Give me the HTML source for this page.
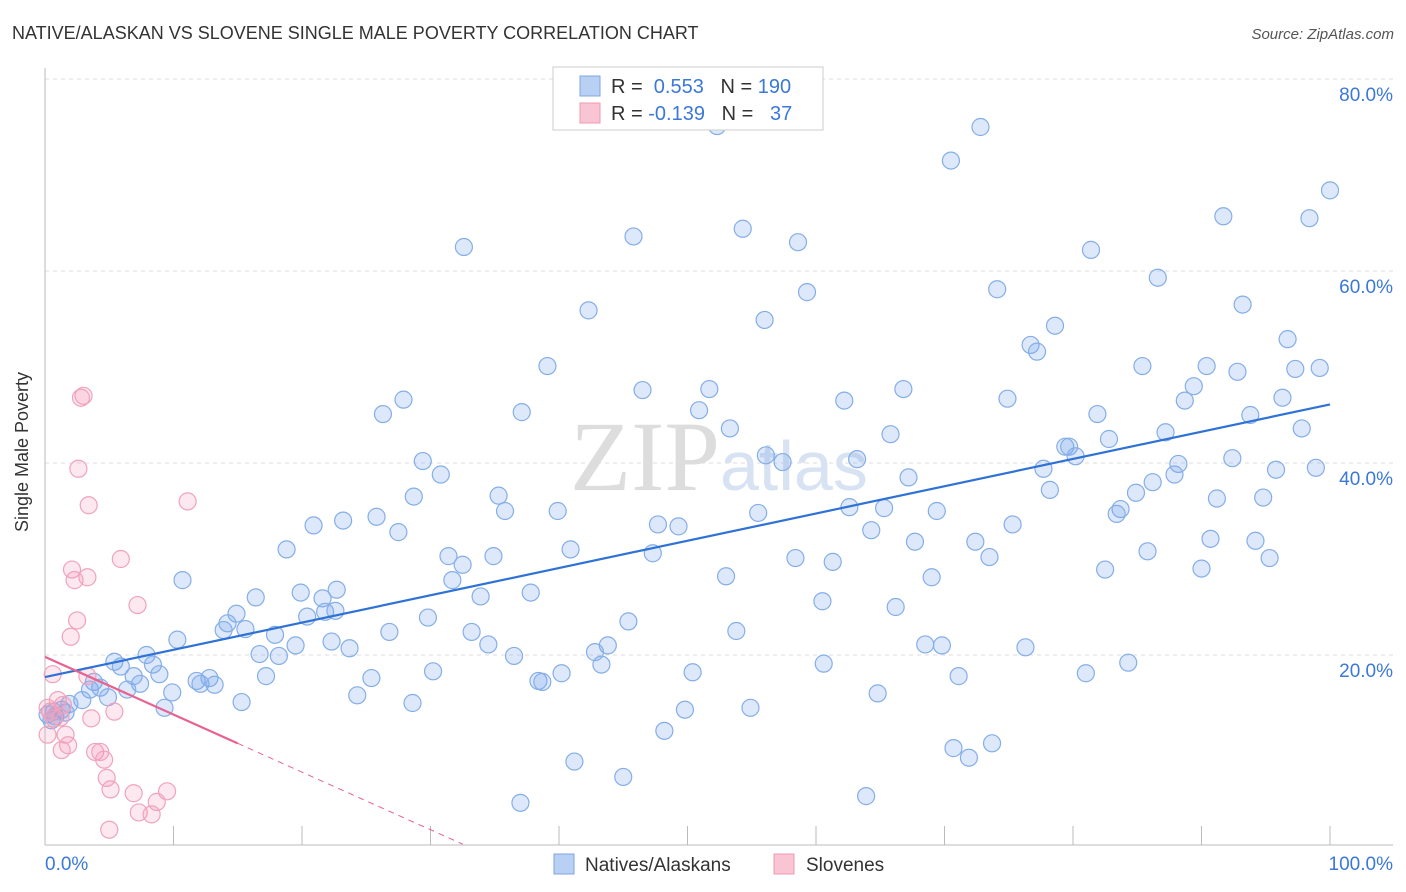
<!DOCTYPE html>
<html><head><meta charset="utf-8"><style>
body{margin:0;background:#fff;font-family:"Liberation Sans",sans-serif;}
svg{display:block}
</style></head><body>
<svg width="1406" height="892">
<text x="12" y="39" font-size="18" fill="#333">NATIVE/ALASKAN VS SLOVENE SINGLE MALE POVERTY CORRELATION CHART</text>
<text x="1394" y="39" font-size="15" fill="#555" font-style="italic" text-anchor="end">Source: ZipAtlas.com</text>
<g id="grid"></g>
<text x="720" y="490" font-size="100" fill="#ddd" text-anchor="end" font-family="Liberation Serif">ZIP</text>
<text x="720" y="490" font-size="70" fill="#d7e3f3">atlas</text>
<g id="pts"></g>
<g id="lines"></g>
<text x="33" y="457" font-size="18" fill="#333" text-anchor="middle" transform="rotate(-90 28 457)">Single Male Poverty</text>
<g>
<rect x="553" y="67" width="270" height="63" fill="#fff" stroke="#ccc"/>
<rect x="580" y="76" width="20" height="20" fill="#b8d0f4" stroke="#7fa6e0"/>
<rect x="580" y="103" width="20" height="20" fill="#f9c4d3" stroke="#ee9ab3"/>
<text x="611" y="93" font-size="20" fill="#333">R = <tspan fill="#3b78d8">&#160;0.553</tspan>&#160;&#160;&#160;N = <tspan fill="#3b78d8">190</tspan></text>
<text x="611" y="120" font-size="20" fill="#333">R = <tspan fill="#3b78d8">-0.139</tspan>&#160;&#160;&#160;N = <tspan fill="#3b78d8">&#160;&#160;37</tspan></text>
</g>
<g>
<rect x="554" y="854" width="20" height="20" fill="#b8d0f4" stroke="#7fa6e0"/>
<text x="585" y="871" font-size="19" fill="#333">Natives/Alaskans</text>
<rect x="774" y="854" width="20" height="20" fill="#f9c4d3" stroke="#ee9ab3"/>
<text x="806" y="871" font-size="19" fill="#333">Slovenes</text>
</g>
</svg>
<script>
const blueX=[52.3,72.8,70.5,100,91.7,98.4,45.8,54.3,58.6,32.6,81.4,86.6,59.3,74.1,42.3,93.2,56.0,78.6,76.7,77.2,96.7,39.1,85.4,90.4,92.8,97.3,99.2,46.5,51.7,66.8,89.4,27.9,62.2,74.9,96.3,88.7,26.3,37.1,50.9,81.9,93.8,53.3,65.8,87.2,97.8,82.8,29.4,56.1,63.2,57.4,79.4,79.7,80.2,92.4,77.7,88.2,95.8,98.9,30.8,67.2,87.9,86.2,28.7,35.3,78.2,84.9,91.2,94.8,35.8,39.9,55.5,62.6,65.3,69.4,83.7,83.4,25.8,23.2,20.9,47.7,49.3,27.5,64.3,75.3,18.8,31.4,34.9,40.9,47.3,67.7,72.4,90.7,94.2,32.5,58.4,61.3,73.5,85.8,95.3,10.7,31.7,53.0,69.0,82.5,90.0,16.4,19.9,21.6,22.7,33.9,37.8,14.9,60.5,66.2,21.8,20.4,22.6,14.2,13.9,15.6,29.8,45.4,10.3,17.9,26.8,33.2,22.3,23.7,34.5,53.8,68.5,69.8,76.3,19.5,16.7,18.2,43.8,42.8,36.5,7.9,5.4,5.9,8.4,8.9,6.9,17.2,25.4,30.2,40.2,43.3,60.6,71.1,81.0,84.3,50.4,3.8,4.3,7.4,6.4,11.8,12.8,12.1,13.2,9.9,3.5,4.9,2.9,1.9,15.3,24.3,28.6,38.4,38.7,64.8,9.3,1.3,0.8,1.6,0.2,0.5,48.2,49.8,54.9,41.2,45.0,37.0,63.9,70.7,71.9,73.7,0.7];
const blueY=[75.1,75.0,71.5,68.4,65.7,65.5,63.6,64.4,63.0,62.5,62.2,59.3,57.8,58.1,55.9,56.5,54.9,54.3,52.3,51.6,52.9,50.1,50.1,50.1,49.5,49.8,49.9,47.6,47.7,47.7,48.0,46.6,46.5,46.7,46.8,46.5,45.1,45.3,45.5,45.1,45.0,43.6,43.0,43.2,43.6,42.5,40.2,40.8,40.4,40.1,41.7,41.7,40.7,40.5,39.4,39.9,39.3,39.5,38.8,38.5,38.8,38.0,36.5,36.6,37.2,36.9,36.3,36.4,35.0,35.0,34.8,35.4,35.3,35.0,35.2,34.7,34.4,34.0,33.5,33.6,33.4,32.8,33.0,33.6,31.0,30.3,30.3,31.0,30.6,31.8,31.8,32.1,31.9,29.4,30.1,29.7,30.2,30.8,30.1,27.8,27.8,28.2,28.1,28.9,29.0,26.0,26.5,25.9,26.8,26.1,26.5,24.3,25.6,25.0,24.5,24.0,24.6,23.3,22.6,22.7,23.9,23.5,21.6,22.1,22.4,22.4,21.4,20.7,21.1,22.5,21.1,21.0,20.8,21.0,20.1,19.9,21.0,20.3,19.9,20.0,19.3,18.8,19.0,18.0,17.8,17.8,17.6,18.3,18.1,19.0,19.1,17.8,18.1,19.2,18.2,17.2,16.6,17.0,16.4,17.3,17.6,17.0,16.9,16.1,16.4,15.6,15.3,14.9,15.1,15.8,15.0,17.3,17.2,16.0,14.5,14.3,13.6,14.0,13.8,13.2,12.1,14.3,14.5,8.9,7.3,4.6,5.3,10.3,9.3,10.8,14.1];
const pinkX=[3.0,2.8,2.6,3.4,11.1,5.9,2.1,2.3,3.3,7.2,2.5,2.0,0.6,3.3,1.0,1.4,0.4,0.7,1.2,3.6,5.4,0.2,1.6,1.8,1.3,3.9,4.3,4.6,4.8,5.1,6.9,9.5,8.7,7.3,8.3,5.0,0.2];
const pinkY=[47.0,46.8,39.4,35.6,36.0,30.0,28.9,27.8,28.1,25.2,23.6,21.9,18.0,17.8,15.3,14.8,14.1,13.4,13.5,13.4,14.1,11.7,11.7,10.6,10.1,9.9,9.9,9.1,7.2,6.0,5.6,5.8,4.7,3.6,3.4,1.8,14.5];
const yTicks=[20,40,60,80];
const yTickLabels=["20.0%","40.0%","60.0%","80.0%"];
const blueFit=[17.7,46.1];
const pinkFit=[19.8,-0.6];
const NS='http://www.w3.org/2000/svg';
const sx=v=>45+v*12.85, sy=v=>847-v*9.6;
function mk(t,a,p){const e=document.createElementNS(NS,t);for(const k in a)e.setAttribute(k,a[k]);p.appendChild(e);return e;}
const grid=document.getElementById('grid');
yTicks.forEach((t,i)=>{
 const l=mk('line',{x1:45,x2:1393,y1:sy(t),y2:sy(t),stroke:'#ddd','stroke-dasharray':'4,4'},grid);
 
 
 const tx=mk('text',{x:1393,y:sy(t)+22,'font-size':19,fill:'#3b78d8','text-anchor':'end'},grid);
 tx.textContent=yTickLabels[i];
 
 
});
const ax=mk('line',{x1:45,x2:1393,y1:845,y2:845,stroke:'#bbb'},grid);


const ay=mk('line',{x1:45,x2:45,y1:68,y2:845,stroke:'#bbb'},grid);


for(let i=1;i<=10;i++){const t=mk('line',{x1:sx(i*10),x2:sx(i*10),y1:826,y2:845,stroke:'#bbb'},grid);
 
 }
const x0=mk('text',{x:45,y:870,'font-size':19,fill:'#3b78d8'},grid);x0.textContent='0.0%';


const x1=mk('text',{x:1393,y:870,'font-size':19,fill:'#3b78d8','text-anchor':'end'},grid);x1.textContent='100.0%';


const pts=document.getElementById('pts');
blueX.forEach((x,i)=>{const c=mk('circle',{cx:sx(x),cy:sy(blueY[i]),r:8.5,fill:'rgba(120,165,235,0.25)',stroke:'#85aee8','stroke-width':1.2},pts);
 
 });
pinkX.forEach((x,i)=>{const c=mk('circle',{cx:sx(x),cy:sy(pinkY[i]),r:8.5,fill:'rgba(245,150,180,0.22)',stroke:'#f0a3bb','stroke-width':1.2},pts);
 
 });
const ln=document.getElementById('lines');
const b=mk('line',{x1:sx(0),y1:sy(blueFit[0]),x2:sx(100),y2:sy(blueFit[1]),stroke:'#2f72d6','stroke-width':2.2},ln);


const pf=x=>pinkFit[0]+pinkFit[1]*x;
const p=mk('line',{x1:sx(0),y1:sy(pf(0)),x2:sx(15),y2:sy(pf(15)),stroke:'#e8628f','stroke-width':2.2},ln);


const pd=mk('line',{x1:sx(15),y1:sy(pf(15)),x2:sx(32.5),y2:sy(Math.max(pf(32.5),0)),stroke:'#e8628f','stroke-width':1,'stroke-dasharray':'6,5'},ln);


</script>
</body></html>
